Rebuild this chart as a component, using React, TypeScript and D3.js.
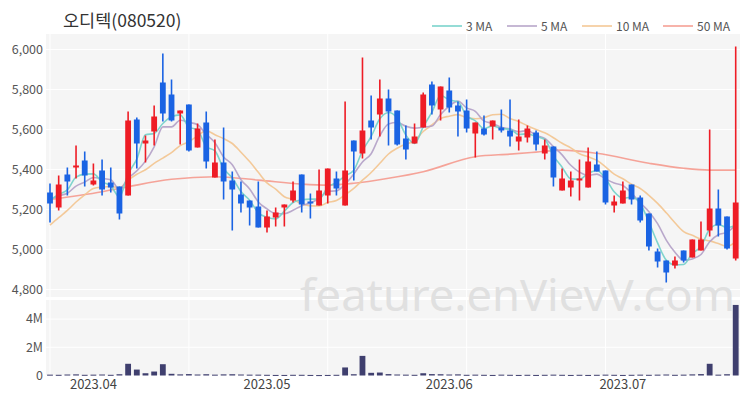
import React from "react";
import * as d3 from "d3";

const title = "오디텍(080520)";
const opens = [5285,5210,5375,5410,5445,5325,5395,5335,5315,5270,5650,5530,5590,5835,5775,5680,5725,5510,5635,5360,5435,5345,5275,5245,5215,5110,5160,5210,5245,5375,5240,5220,5270,5355,5220,5545,5480,5645,5675,5755,5695,5555,5530,5610,5825,5700,5795,5720,5695,5580,5605,5615,5610,5595,5540,5560,5585,5480,5515,5295,5310,5345,5310,5425,5395,5220,5230,5325,5260,5180,4990,4945,4920,4995,4960,4995,5095,5205,5165,4955];
const highs = [5330,5370,5410,5520,5490,5430,5450,5410,5315,5690,5660,5570,5720,5980,5850,5695,5725,5630,5690,5550,5610,5390,5340,5245,5340,5195,5210,5225,5340,5375,5280,5400,5405,5390,5740,5545,5960,5770,5850,5800,5695,5620,5630,5785,5840,5815,5860,5740,5750,5635,5670,5645,5700,5750,5650,5620,5595,5550,5515,5405,5390,5450,5510,5490,5395,5270,5340,5325,5270,5180,5005,4945,4965,4995,5050,5140,5600,5300,5165,6015];
const lows = [5135,5195,5270,5355,5315,5320,5270,5285,5150,5270,5405,5435,5520,5640,5640,5525,5490,5510,5405,5360,5250,5095,5185,5120,5110,5085,5115,5115,5235,5185,5155,5220,5230,5270,5220,5345,5455,5550,5565,5520,5520,5450,5530,5610,5675,5645,5685,5565,5585,5460,5570,5550,5585,5515,5495,5535,5495,5450,5315,5295,5265,5245,5310,5390,5225,5185,5230,5225,5135,4995,4910,4835,4905,4935,4960,4995,5065,5065,5000,4945];
const closes = [5230,5325,5340,5420,5370,5345,5300,5310,5180,5645,5530,5545,5665,5680,5645,5695,5495,5605,5440,5435,5340,5300,5230,5210,5110,5165,5185,5225,5295,5225,5235,5295,5405,5305,5395,5490,5595,5610,5755,5690,5525,5500,5565,5775,5720,5815,5710,5690,5605,5635,5575,5645,5595,5565,5565,5605,5525,5520,5360,5355,5345,5355,5440,5390,5235,5240,5295,5250,5145,5015,4940,4885,4945,4945,5050,5050,5205,5120,5005,5235];
// closes before the visible window (used only so the moving averages start where the picture shows)
const priorCloses = [4950,4980,5000,5010,5030,5230,5280,5240,5270];
const volumes = [0.06,0.05,0.07,0.08,0.05,0.06,0.07,0.05,0.09,0.83,0.42,0.16,0.28,0.8,0.12,0.08,0.1,0.07,0.09,0.06,0.08,0.09,0.07,0.06,0.06,0.05,0.04,0.04,0.05,0.05,0.04,0.03,0.04,0.05,0.57,0.09,1.39,0.19,0.21,0.1,0.07,0.06,0.05,0.16,0.1,0.09,0.07,0.08,0.05,0.06,0.05,0.04,0.06,0.05,0.04,0.05,0.04,0.05,0.06,0.05,0.04,0.05,0.04,0.05,0.06,0.05,0.04,0.05,0.06,0.05,0.06,0.07,0.05,0.06,0.08,0.1,0.83,0.06,0.09,5.0];
const ma50Idx = [0,6,9,14,19,24,29,32,35,39,43,49,53,56,59,63,69,73,76,79];
const ma50Val = [5250,5289,5314,5351,5364,5347,5327,5322,5331,5356,5389,5464,5477,5487,5497,5481,5431,5406,5397,5397];
const xTickIdx = [5,25,46,66];
const xTickLabels = ["2023.04","2023.05","2023.06","2023.07"];
const priceTicks = [4800,5000,5200,5400,5600,5800,6000];
const volTicks = [0,2,4];
const gridIdx = [0,16,32,48,64];
const maPeriods = [3,5,10];
const legendLabels = ["3 MA","5 MA","10 MA","50 MA"];

const RED = "#ee1c25";
const BLUE = "#1a63e3";
const MA_COLORS = ["#72d0c9","#b3a0c6","#f3c48f","#f59a8e"];
const FONT = "'Noto Sans CJK KR','Noto Sans',sans-serif";

export default function App() {
  const n = closes.length;
  const left = 45.66, right = 740.04;
  const x = d3.scaleBand<number>().domain(d3.range(n)).range([left, right]).paddingInner(0.33).paddingOuter(0.165);
  const cx = (i: number) => (x(i) as number) + x.bandwidth() / 2;
  const y = d3.scaleLinear().domain([4762.5, 6077.5]).range([297, 34]);
  const yv = d3.scaleLinear().domain([0, 5.35]).range([375.5, 300]);

  const all = [...priorCloses, ...closes];
  const mas = maPeriods.map((p) =>
    closes.map((_, i) => d3.mean(all.slice(i + priorCloses.length - p + 1, i + priorCloses.length + 1)) as number)
  );
  const line = d3.line<number>().x((_, i) => cx(i)).y((v) => y(v)).curve(d3.curveMonotoneX);
  const line50 = d3.line<number>().x((_, k) => cx(ma50Idx[k])).y((v) => y(v)).curve(d3.curveMonotoneX);

  const legendX = [432, 507, 582, 663];

  return (
    <svg width={750} height={400} style={{ position: "absolute", left: 0, top: 0, display: "block" }} fontFamily={FONT}>
      <rect width={750} height={400} fill="#fff" />
      <text x={63} y={27} fontSize={17.5} fill="#333">{title}</text>
      {legendLabels.map((l, k) => (
        <g key={l}>
          <line x1={legendX[k]} x2={legendX[k] + 30} y1={26} y2={26} stroke={MA_COLORS[k]} strokeWidth={1.5} />
          <text x={legendX[k] + 34} y={30.5} fontSize={12} fill="#555">{l}</text>
        </g>
      ))}
      {/* panels */}
      <rect x={46} y={34} width={694} height={263} fill="#f5f5f5" />
      <rect x={46} y={300} width={694} height={76} fill="#f5f5f5" />
      {priceTicks.map((t) => (
        <g key={t}>
          <line x1={46} x2={740} y1={y(t)} y2={y(t)} stroke="#fff" strokeWidth={1} />
          <text x={43} y={y(t)} dy="0.35em" textAnchor="end" fontSize={12.5} fill="#555">{d3.format(",")(t)}</text>
        </g>
      ))}
      {gridIdx.map((i) => (
        <g key={i}>
          <line x1={cx(i)} x2={cx(i)} y1={34} y2={297} stroke="#fff" strokeWidth={1} />
          <line x1={cx(i)} x2={cx(i)} y1={300} y2={376} stroke="#fff" strokeWidth={1} />
        </g>
      ))}
      {volTicks.map((t) => (
        <g key={t}>
          <line x1={46} x2={740} y1={yv(t)} y2={yv(t)} stroke="#fff" strokeWidth={1} />
          <text x={43} y={yv(t)} dy="0.35em" textAnchor="end" fontSize={12.5} fill="#555">{t === 0 ? "0" : `${t}M`}</text>
        </g>
      ))}
      {/* watermark */}
      <text x={300} y={311} fontSize={44} fill="#e0e0e0" fontWeight={400} textLength={435} lengthAdjust="spacingAndGlyphs" fontFamily="'Noto Sans',sans-serif">feature.enVievV.com</text>
      {/* MA lines */}
      <path d={line50(ma50Val) || ""} fill="none" stroke={MA_COLORS[3]} strokeWidth={1.6} strokeOpacity={0.9} />
      {mas.slice().reverse().map((m, k) => (
        <path key={k} d={line(m) || ""} fill="none" stroke={MA_COLORS[2 - k]} strokeWidth={1.6} strokeOpacity={0.9} />
      ))}
      {/* candles */}
      {closes.map((c, i) => {
        const o = opens[i];
        const up = c >= o;
        const col = up ? RED : BLUE;
        const top = y(Math.max(o, c));
        const bot = y(Math.min(o, c));
        return (
          <g key={i}>
            <line x1={cx(i)} x2={cx(i)} y1={y(highs[i])} y2={y(lows[i])} stroke={col} strokeWidth={1.6} />
            <rect x={x(i)} y={top} width={x.bandwidth()} height={Math.max(2, bot - top)} fill={col} />
          </g>
        );
      })}
      {/* volume */}
      {volumes.map((v, i) => (
        <rect key={i} x={x(i)} y={yv(v)} width={x.bandwidth()} height={Math.max(1, yv(0) - yv(v))} fill="#3f3f6e" />
      ))}
      {xTickIdx.map((i, k) => (
        <text key={i} x={cx(i)} y={389} textAnchor="middle" fontSize={13} fill="#444">{xTickLabels[k]}</text>
      ))}
    </svg>
  );
}
